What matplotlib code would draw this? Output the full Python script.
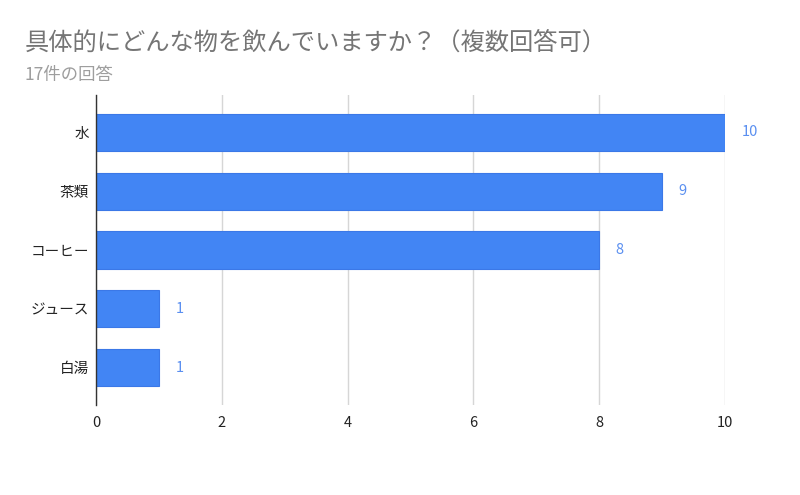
import matplotlib
matplotlib.use("Agg")
import matplotlib.pyplot as plt

plt.rcParams['font.family'] = ['Noto Sans CJK JP', 'DejaVu Sans']

title = "具体的にどんな物を飲んでいますか？（複数回答可）"
subtitle = "17件の回答"
categories = ["水", "茶類", "コーヒー", "ジュース", "白湯"]
values = [10, 9, 8, 1, 1]
xticks = [0, 2, 4, 6, 8, 10]

fig = plt.figure(figsize=(8, 4.95), dpi=100)
ax = fig.add_axes([0.12, 0.182, 0.786, 0.626])

y = list(range(len(categories)))
ax.barh(y, values, height=0.63, color="#4285f4", edgecolor="#3b78e7", linewidth=0.8, zorder=3)
for yi, v in zip(y, values):
    ax.annotate(str(v), (v, yi), xytext=(12, 0), textcoords="offset points",
                va="center", ha="left", fontsize=10.5, color="#5a8ff0")

ax.set_xlim(0, 10)
ax.set_ylim(len(categories) - 1 + 0.63, -0.63)
ax.set_xticks(xticks)
ax.set_xticklabels([str(t) for t in xticks], fontsize=10.5, color="#222222")
ax.set_yticks(y)
ax.set_yticklabels(categories, fontsize=10.5, color="#222222")
ax.tick_params(axis="y", length=0, pad=5)
ax.tick_params(axis="x", length=0, pad=8)
ax.grid(axis="x", color="#d6d6d6", linewidth=1, zorder=0)
for s in ["top", "right", "bottom"]:
    ax.spines[s].set_visible(False)
ax.spines["left"].set_color("#333333")
ax.spines["left"].set_linewidth(1)
ax.spines["left"].set_zorder(4)

fig.text(25 / 800, 1 - 43 / 495, title, fontsize=17.5, color="#757575", va="center", ha="left")
fig.text(25 / 800, 1 - 75 / 495, subtitle, fontsize=12.5, color="#9e9e9e", va="center", ha="left")

fig.savefig("out.png", dpi=100, facecolor="white")
